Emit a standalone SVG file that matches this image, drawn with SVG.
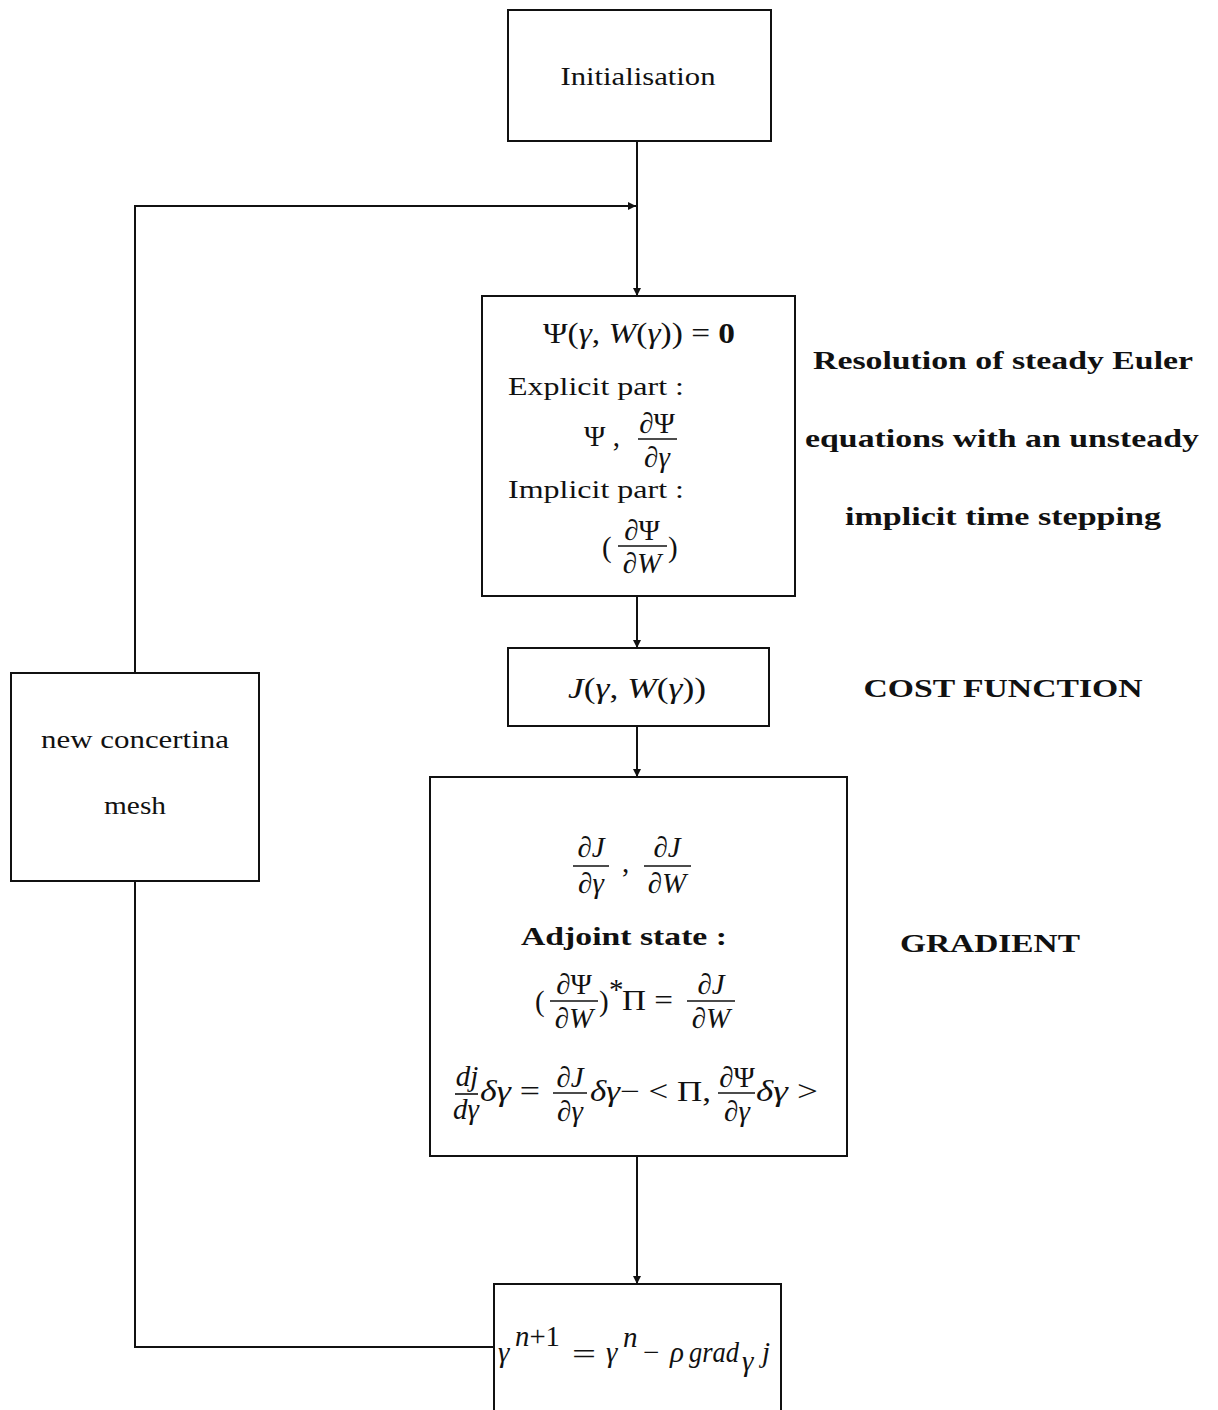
<svg xmlns="http://www.w3.org/2000/svg" width="1218" height="1410" viewBox="0 0 1218 1410">
<style>
.box{fill:none;stroke:#111;stroke-width:2}
.ln{fill:none;stroke:#111;stroke-width:2}
.fr{stroke:#111;stroke-width:1.6}
.t{font-family:"Liberation Serif","Times New Roman",serif;fill:#111;font-size:25px}
.b{font-weight:bold}
.i{font-style:italic}
.m{font-family:"Liberation Serif","Times New Roman",serif;fill:#111;font-size:29px}
.c{text-anchor:middle}
</style>
<defs>
<marker id="ah" viewBox="0 0 10 10" refX="10" refY="5" markerWidth="8" markerHeight="8" markerUnits="userSpaceOnUse" orient="auto">
<path d="M0,0 L10,5 L0,10 Z" fill="#111"/>
</marker>
</defs>
<rect width="1218" height="1410" fill="#fff"/>

<g id="connectors">
<line class="ln" x1="637" y1="141" x2="637" y2="296" marker-end="url(#ah)"/>
<line class="ln" x1="637" y1="596" x2="637" y2="648" marker-end="url(#ah)"/>
<line class="ln" x1="637" y1="726" x2="637" y2="777" marker-end="url(#ah)"/>
<line class="ln" x1="637" y1="1156" x2="637" y2="1284" marker-end="url(#ah)"/>
<polyline class="ln" points="494,1347 135,1347 135,881"/>
<polyline class="ln" points="135,673 135,206 636,206" marker-end="url(#ah)"/>
</g>

<g id="init">
<rect class="box" x="508" y="10" width="263" height="131"/>
<text class="t c" x="638" y="85" textLength="155" lengthAdjust="spacingAndGlyphs">Initialisation</text>
</g>

<g id="euler">
<rect class="box" x="482" y="296" width="313" height="300"/>
<text class="m" x="543" y="343" textLength="192" lengthAdjust="spacingAndGlyphs">Ψ(<tspan class="i">γ</tspan>, <tspan class="i">W</tspan>(<tspan class="i">γ</tspan>)) = <tspan class="b">0</tspan></text>
<text class="t" x="508" y="395" textLength="176" lengthAdjust="spacingAndGlyphs">Explicit part :</text>
<text class="m" x="584" y="446">Ψ ,</text>
<text class="m c" x="657" y="433">∂Ψ</text>
<line class="fr" x1="638" y1="439" x2="677" y2="439"/>
<text class="m c" x="657" y="467">∂<tspan class="i">γ</tspan></text>
<text class="t" x="508" y="498" textLength="176" lengthAdjust="spacingAndGlyphs">Implicit part :</text>
<text class="m" x="602" y="557">(</text>
<text class="m c" x="642" y="540">∂Ψ</text>
<line class="fr" x1="618" y1="546" x2="667" y2="546"/>
<text class="m c" x="642" y="573">∂<tspan class="i">W</tspan></text>
<text class="m" x="668" y="557">)</text>
</g>
<g id="euler-label">
<text class="t b c" x="1003" y="369" textLength="380" lengthAdjust="spacingAndGlyphs">Resolution of steady Euler</text>
<text class="t b c" x="1002" y="447" textLength="394" lengthAdjust="spacingAndGlyphs">equations with an unsteady</text>
<text class="t b c" x="1003" y="525" textLength="316" lengthAdjust="spacingAndGlyphs">implicit time stepping</text>
</g>

<g id="cost">
<rect class="box" x="508" y="648" width="261" height="78"/>
<text class="m i" x="568" y="698" textLength="138" lengthAdjust="spacingAndGlyphs">J<tspan font-style="normal">(</tspan>γ<tspan font-style="normal">, </tspan>W<tspan font-style="normal">(</tspan>γ<tspan font-style="normal">))</tspan></text>
</g>
<g id="cost-label">
<text class="t b c" x="1003" y="697" textLength="279" lengthAdjust="spacingAndGlyphs">COST FUNCTION</text>
</g>

<g id="gradient">
<rect class="box" x="430" y="777" width="417" height="379"/>
<text class="m c" x="591" y="857">∂<tspan class="i">J</tspan></text>
<line class="fr" x1="573" y1="866" x2="609" y2="866"/>
<text class="m c" x="591" y="893">∂<tspan class="i">γ</tspan></text>
<text class="m" x="622" y="872">,</text>
<text class="m c" x="667" y="857">∂<tspan class="i">J</tspan></text>
<line class="fr" x1="644" y1="866" x2="691" y2="866"/>
<text class="m c" x="667" y="893">∂<tspan class="i">W</tspan></text>
<text class="t b c" x="624" y="945" textLength="206" lengthAdjust="spacingAndGlyphs">Adjoint state :</text>
<text class="m" x="535" y="1011">(</text>
<text class="m c" x="574" y="994">∂Ψ</text>
<line class="fr" x1="550" y1="1001" x2="598" y2="1001"/>
<text class="m c" x="574" y="1028">∂<tspan class="i">W</tspan></text>
<text class="m" x="599" y="1011">)</text>
<text class="m" x="609" y="999" font-size="15">*</text>
<text class="m" x="622" y="1010" textLength="51" lengthAdjust="spacingAndGlyphs">Π =</text>
<text class="m c" x="711" y="994">∂<tspan class="i">J</tspan></text>
<line class="fr" x1="687" y1="1001" x2="735" y2="1001"/>
<text class="m c" x="711" y="1028">∂<tspan class="i">W</tspan></text>
<text class="m i c" x="467" y="1086" font-size="23">dj</text>
<line class="fr" x1="455" y1="1094" x2="478" y2="1094"/>
<text class="m i c" x="466" y="1119" font-size="23">dγ</text>
<text class="m" x="480" y="1101" textLength="60" lengthAdjust="spacingAndGlyphs"><tspan class="i">δγ</tspan> =</text>
<text class="m c" x="570" y="1087">∂<tspan class="i">J</tspan></text>
<line class="fr" x1="553" y1="1093" x2="587" y2="1093"/>
<text class="m c" x="570" y="1121">∂<tspan class="i">γ</tspan></text>
<text class="m" x="590" y="1101" textLength="121" lengthAdjust="spacingAndGlyphs"><tspan class="i">δγ</tspan>− &lt; Π,</text>
<text class="m c" x="737" y="1087">∂Ψ</text>
<line class="fr" x1="718" y1="1093" x2="755" y2="1093"/>
<text class="m c" x="737" y="1121">∂<tspan class="i">γ</tspan></text>
<text class="m" x="756" y="1101" textLength="62" lengthAdjust="spacingAndGlyphs"><tspan class="i">δγ</tspan> &gt;</text>
</g>
<g id="gradient-label">
<text class="t b c" x="990" y="952" textLength="180" lengthAdjust="spacingAndGlyphs">GRADIENT</text>
</g>

<g id="update">
<path class="box" d="M494,1412 V1284 H781 V1412"/>
<text class="m i" x="498" y="1362" font-size="33">γ</text>
<text class="m i" x="515" y="1346" font-size="22" textLength="45" lengthAdjust="spacingAndGlyphs">n<tspan font-style="normal">+1</tspan></text>
<text class="m" x="572" y="1364" font-size="33" textLength="24" lengthAdjust="spacingAndGlyphs">=</text>
<text class="m i" x="606" y="1362" font-size="33">γ</text>
<text class="m i" x="623" y="1347" font-size="22">n</text>
<text class="m" x="643" y="1362" font-size="33">−</text>
<text class="m i" x="670" y="1362" font-size="33">ρ</text>
<text class="m i" x="689" y="1362" font-size="33" textLength="50" lengthAdjust="spacingAndGlyphs">grad</text>
<text class="m i" x="742" y="1371" font-size="20">γ</text>
<text class="m i" x="762" y="1362" font-size="33">j</text>
</g>

<g id="mesh">
<rect class="box" x="11" y="673" width="248" height="208"/>
<text class="t c" x="135" y="748" textLength="188" lengthAdjust="spacingAndGlyphs">new concertina</text>
<text class="t c" x="135" y="814" textLength="62" lengthAdjust="spacingAndGlyphs">mesh</text>
</g>
</svg>
